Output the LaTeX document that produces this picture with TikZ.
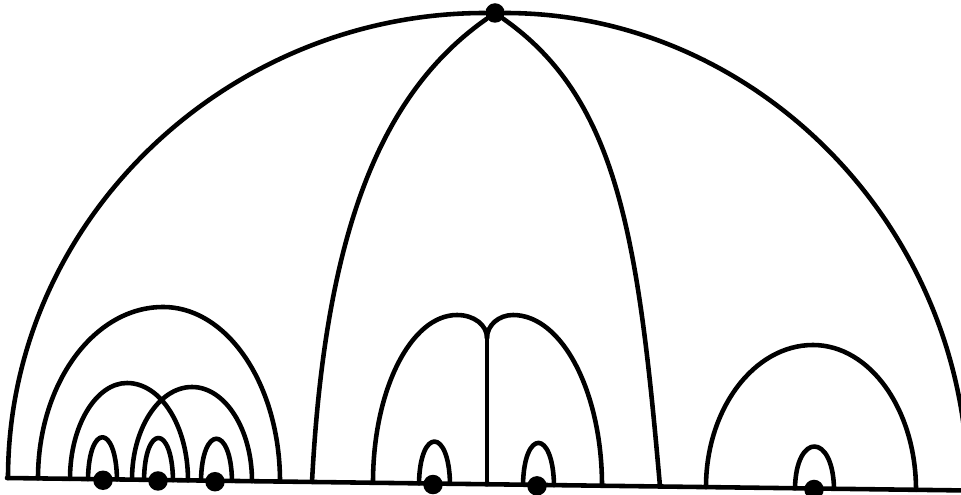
\documentclass[tikz,border=0pt]{standalone}
\usepackage{tikz}
\tikzset{
  trait/.style={line width=2.6pt, line cap=round, line join=round},
  sommet/.style={circle, fill=black, inner sep=0pt, minimum size=3.9mm}
}

\begin{document}
\begin{tikzpicture}[x=0.2mm, y=0.2mm]
    \useasboundingbox (0,0) rectangle (961,494);
    \clip (0,0) rectangle (961,494);

    % pieds sur la ligne de base (un peu inclinee)
    \foreach \nom/\x in {sol0/7, sol1/961, o1/8, o2/968, g1/38, g2/280,
        a1/70, a2/188, b1/132, b2/252, s1/88, s2/117, s3/144, s4/173,
        s5/201, s6/232, v1/312, v2/660, m1/373, m2/487, m3/602,
        t1/419, t2/450, t3/523, t4/554, r1/706, r2/916, u1/795, u2/834}
      \coordinate (\nom) at (\x,{16-0.013*(\x-7)});
    \coordinate (jonction) at (487,156);

    \node[sommet] (haut) at (495,481) {};
    \foreach \nom/\x in {p1/103, p2/158, p3/215, p4/433, p5/537, p6/814}
      \node[sommet] (\nom) at (\x,{15-0.013*(\x-7)}) {};

    \draw[trait] (sol0) -- (sol1);

    % grand arc et lentille
    \draw[trait] (o1) .. controls +(0,257) and +(-269,0) .. (haut)
                      .. controls +(261,0) and +(0,264) .. (o2);
    \draw[trait] (v1) .. controls +(87:250) and +(215:140) .. (haut);
    \draw[trait] (haut) .. controls +(-35:150) and +(95:250) .. (v2);

    % groupe de gauche
    \draw[trait] (g1) .. controls +(0,95) and +(-69,0) .. (163,187)
                      .. controls +(65,0) and +(0,96) .. (g2);
    \draw[trait] (a1) .. controls +(0,53) and +(-31,0) .. (127,111)
                      .. controls +(34,0) and +(0,54) .. (a2);
    \draw[trait] (b1) .. controls +(0,51) and +(-33,0) .. (192,107)
                      .. controls +(33,0) and +(0,52) .. (b2);

    % groupe du milieu
    \draw[trait] (m1) .. controls +(0,93) and +(-46,0) .. (457,179)
                      .. controls +(17,0) and +(0,13) .. (jonction);
    \draw[trait] (jonction) .. controls +(0,13) and +(-14,0) .. (513,179)
                      .. controls +(49,0) and +(0,94) .. (m3);
    \draw[trait] (jonction) -- (m2);

    % groupe de droite
    \draw[trait] (r1) .. controls +(0,78) and +(-59,0) .. (813,149)
                      .. controls +(57,0) and +(0,80) .. (r2);

    % petites boucles autour des points
    \foreach \i/\j in {s1/s2, s3/s4, s5/s6, t1/t2, t3/t4, u1/u2}
      \draw[trait] (\i) .. controls +(1,56) and +(-1,56) .. (\j);
  \end{tikzpicture}
\end{document}
